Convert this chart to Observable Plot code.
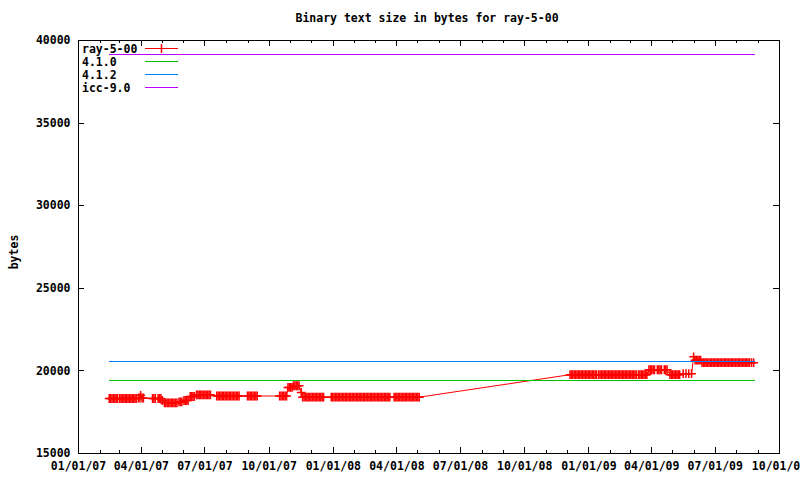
<!DOCTYPE html>
<html><head><meta charset="utf-8">
<script src="https://cdn.jsdelivr.net/npm/d3@7"></script>
<script src="https://cdn.jsdelivr.net/npm/@observablehq/plot@0.6"></script>
<style>
html,body{margin:0;padding:0;background:#fff;overflow:hidden;}
#wrap{position:relative;width:800px;height:480px;}
#legend{position:absolute;left:0;top:0;pointer-events:none;}
</style></head><body><div id="wrap"></div>
<script>
const chartTitle = "Binary text size in bytes for ray-5-00";
const yLabel = "bytes";
const seriesNames = ["ray-5-00", "4.1.0", "4.1.2", "icc-9.0"];
const seriesColors = ["#ff0000", "#00c000", "#0080ff", "#c000ff"];

// ray-5-00: [days since 2007-01-01, bytes]
const rayPoints = [
 [44,18330],[46,18330],[48,18330],[50,18330],[52,18330],[54,18330],[56,18330],
 [59,18330],[61,18330],[63,18330],[65,18330],[67,18330],[69,18330],[71,18330],[73,18330],[75,18330],[77,18330],[79,18330],[81,18330],[83,18330],
 [86,18360],[88,18360],[89,18520],[91,18360],[93,18360],
 [106,18330],[108,18330],[110,18330],
 [114,18330],[116,18330],[118,18330],[120,18210],
 [123,18070],[125,18070],[127,18070],[129,18070],[131,18070],[133,18070],[135,18070],[137,18070],[139,18070],[141,18070],
 [144,18120],[146,18120],[148,18120],
 [151,18210],[153,18210],[155,18210],[157,18210],
 [160,18450],[162,18450],[164,18450],[166,18450],
 [169,18550],[171,18550],[173,18550],[175,18550],[177,18550],[179,18550],[181,18550],[183,18550],[185,18550],[187,18550],[189,18550],
 [198,18480],[200,18480],[202,18480],[204,18480],[206,18480],[208,18480],[210,18480],[212,18480],[214,18480],[216,18480],[218,18480],[220,18480],[222,18480],[224,18480],[226,18480],[228,18480],[230,18480],
 [242,18480],[244,18480],[246,18480],[248,18480],[250,18480],[252,18480],[254,18480],[256,18480],
 [288,18480],[290,18480],[292,18480],[294,18480],[296,18480],[298,18480],
 [300,19000],[302,19000],[304,19000],[306,19000],
 [308,19100],[310,19100],[312,19100],[314,19100],[316,19100],
 [319,18700],
 [321,18410],[323,18410],[325,18410],[327,18410],[329,18410],[331,18410],[333,18410],[335,18410],[337,18410],[339,18410],[341,18410],[343,18410],[345,18410],[347,18410],[349,18410],[351,18410],
 [362,18410],[364,18410],[366,18410],[368,18410],[370,18410],[372,18410],[374,18410],[376,18410],[378,18410],[380,18410],
 [382,18410],[384,18410],[386,18410],[388,18410],[390,18410],[392,18410],[394,18410],[396,18410],[398,18410],[400,18410],
 [402,18410],[404,18410],[406,18410],[408,18410],[410,18410],[412,18410],[414,18410],[416,18410],[418,18410],[420,18410],
 [422,18410],[424,18410],[426,18410],[428,18410],[430,18410],[432,18410],[434,18410],[436,18410],[438,18410],[440,18410],
 [442,18410],[444,18410],[446,18410],
 [452,18410],[454,18410],[456,18410],[458,18410],[460,18410],[462,18410],[464,18410],[466,18410],[468,18410],[470,18410],
 [472,18410],[474,18410],[476,18410],[478,18410],[480,18410],[482,18410],[484,18410],[486,18410],[488,18410],
 [704,19770],[706,19770],[708,19770],[710,19770],[712,19770],[714,19770],[716,19770],[718,19770],[720,19770],[722,19770],
 [724,19770],[726,19770],[728,19770],[730,19770],[732,19770],[734,19770],[736,19770],[738,19770],[740,19770],[742,19770],
 [745,19770],[747,19770],[749,19770],[751,19770],[753,19770],[755,19770],[757,19770],[759,19770],[761,19770],[763,19770],
 [765,19770],[767,19770],[769,19770],[771,19770],[773,19770],[775,19770],[777,19770],[779,19770],[781,19770],[783,19770],
 [785,19770],[787,19770],[789,19770],[791,19770],[793,19770],[795,19770],[797,19770],[799,19770],
 [802,19770],[804,19770],[806,19770],[808,19770],[810,19770],[812,19770],[814,19770],
 [817,20070],[819,20070],[821,20070],[823,20070],[825,20070],
 [829,20070],[831,20070],[833,20070],[835,20070],
 [839,20070],[841,20070],[843,20070],
 [847,19770],[849,19770],[851,19770],[853,19770],[855,19770],[857,19770],[859,19770],[861,19770],
 [866,19830],[870,19830],[874,19830],[878,19830],
 [881,20850],
 [883,20650],[885,20650],[887,20650],[889,20650],[891,20650],
 [893,20500],[895,20500],[897,20500],[899,20500],[901,20500],[903,20500],[905,20500],[907,20500],[909,20500],[911,20500],
 [913,20500],[915,20500],[917,20500],[919,20500],[921,20500],[923,20500],[925,20500],[927,20500],[929,20500],[931,20500],
 [933,20500],[935,20500],[937,20500],[939,20500],[941,20500],[943,20500],[945,20500],[947,20500],[949,20500],[951,20500],
 [953,20500],[955,20500],[957,20500],[959,20500],[961,20500],
 [964,20500],[967,20500]
];

// reference compilers (constant lines)
const refNames = ["4.1.0", "4.1.2", "icc-9.0"];
const refBytes = [19400, 20560, 39150];
const refDays = [44, 968];

const xTickDates = ["2007-01-01","2007-04-01","2007-07-01","2007-10-01","2008-01-01","2008-04-01","2008-07-01","2008-10-01","2009-01-01","2009-04-01","2009-07-01","2009-10-01"];
const xTickLabels = ["01/01/07","04/01/07","07/01/07","10/01/07","01/01/08","04/01/08","07/01/08","10/01/08","01/01/09","04/01/09","07/01/09","10/01/09"];
const yTicks = [15000, 20000, 25000, 30000, 35000, 40000];

const t0 = new Date(Date.UTC(2007, 0, 1));
const toDate = d => d3.utcDay.offset(t0, d);
const ray = rayPoints.map(([d, b]) => ({date: toDate(d), bytes: b, series: seriesNames[0]}));
const refs = refNames.flatMap((n, i) => refDays.map(d => ({date: toDate(d), bytes: refBytes[i], series: n})));
const xMajor = xTickDates.map(s => new Date(s + "T00:00:00Z"));
const xMinor = d3.utcMonth.range(xMajor[0], d3.utcDay.offset(xMajor[xMajor.length - 1], 1));

const W = 800, H = 480, mL = 78, mR = 21, mT = 40, mB = 27;
const iw = W - mL - mR, ih = H - mT - mB;
const fontFam = "'DejaVu Sans Mono', monospace";

const chart = Plot.plot({
  width: W, height: H,
  marginLeft: mL, marginRight: mR, marginTop: mT, marginBottom: mB,
  style: {fontFamily: fontFam, fontSize: "11.5px", fontWeight: "bold", color: "#000", background: "#fff", overflow: "visible"},
  x: {type: "utc", domain: [xMajor[0], xMajor[xMajor.length - 1]], label: null},
  y: {domain: [15000, 40000], label: null},
  color: {domain: seriesNames, range: seriesColors},
  marks: [
    Plot.line(ray, {x: "date", y: "bytes", stroke: "series", strokeWidth: 1}),
    Plot.dot(ray, {x: "date", y: "bytes", stroke: "series", symbol: "plus", r: 2.95, strokeWidth: 1.5}),
    Plot.line(refs, {x: "date", y: "bytes", z: "series", stroke: "series", strokeWidth: 1, shapeRendering: "crispEdges"}),
    Plot.frame({stroke: "#000", strokeWidth: 1, shapeRendering: "crispEdges"}),
    Plot.tickX(xMajor, {x: d => d, insetTop: ih - 6, stroke: "#000", shapeRendering: "crispEdges"}),
    Plot.tickX(xMajor, {x: d => d, insetBottom: ih - 6, stroke: "#000", shapeRendering: "crispEdges"}),
    Plot.tickX(xMinor, {x: d => d, insetTop: ih - 3, stroke: "#000", shapeRendering: "crispEdges"}),
    Plot.tickX(xMinor, {x: d => d, insetBottom: ih - 3, stroke: "#000", shapeRendering: "crispEdges"}),
    Plot.tickY(yTicks, {y: d => d, insetRight: iw - 6, stroke: "#000", shapeRendering: "crispEdges"}),
    Plot.tickY(yTicks, {y: d => d, insetLeft: iw - 6, stroke: "#000", shapeRendering: "crispEdges"}),
    Plot.axisX(xMajor, {tickSize: 0, tickPadding: 8, label: null,
      tickFormat: d => xTickLabels[xMajor.findIndex(t => +t === +d)]}),
    Plot.axisY(yTicks, {tickSize: 0, tickPadding: 8, label: null, tickFormat: d => String(d)}),
    Plot.text([chartTitle], {frameAnchor: "top", dy: -22, dx: -2, lineAnchor: "middle"}),
    Plot.text([yLabel], {frameAnchor: "left", dx: -64, dy: 5, rotate: -90, textAnchor: "middle", lineAnchor: "middle"})
  ]
});

const wrap = document.getElementById("wrap");
wrap.appendChild(chart);

// Legend (top-left, inside the frame)
const lg = d3.select(wrap).append("svg").attr("id", "legend")
  .attr("width", W).attr("height", H)
  .style("font-family", fontFam).style("font-size", "11.5px").style("font-weight", "bold");
seriesNames.forEach((name, i) => {
  const cy = 48.5 + 13 * i;
  lg.append("text").attr("x", 82).attr("y", cy).attr("dy", "0.35em").attr("fill", "#000").text(name);
  lg.append("line").attr("x1", 145).attr("x2", 178).attr("y1", cy).attr("y2", cy)
    .attr("stroke", seriesColors[i]).attr("stroke-width", 1).attr("shape-rendering", "crispEdges");
  if (i === 0) {
    lg.append("line").attr("x1", 161.5).attr("x2", 161.5).attr("y1", cy - 4.5).attr("y2", cy + 4.5)
      .attr("stroke", seriesColors[i]).attr("stroke-width", 1.5);
  }
});
</script>
</body></html>
